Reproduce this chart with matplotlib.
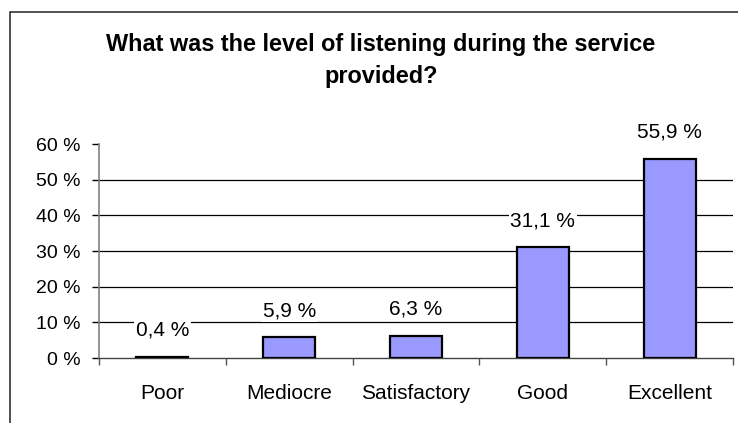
import matplotlib
matplotlib.use("Agg")
import matplotlib.pyplot as plt
import matplotlib.patches as mpatches
import numpy as np

categories = ["Poor", "Mediocre", "Satisfactory", "Good", "Excellent"]
values = [0.4, 5.9, 6.3, 31.1, 55.9]
value_labels = ["0,4 %", "5,9 %", "6,3 %", "31,1 %", "55,9 %"]
y_ticks = [0, 10, 20, 30, 40, 50, 60]
y_tick_labels = ["0 %", "10 %", "20 %", "30 %", "40 %", "50 %", "60 %"]
title = "What was the level of listening during the service\nprovided?"

plt.rcParams["font.family"] = ["Liberation Sans", "DejaVu Sans"]

W, H = 738, 423
fig = plt.figure(figsize=(W / 100, H / 100), dpi=100)
fig.patch.set_facecolor("white")

# outer chart frame (runs off the right and bottom edge)
frame = mpatches.Rectangle((9.5 / W, -0.05), 1.0, (H - 12.5) / H + 0.05,
                           transform=fig.transFigure, fill=False,
                           edgecolor="#222222", linewidth=1.1, zorder=0)
fig.patches.append(frame)

ax = fig.add_axes([99 / W, (H - 358) / H, (733 - 99) / W, (358 - 144) / H])
ax.set_xlim(0, len(categories))
ax.set_ylim(0, 60)

x = np.arange(len(categories)) + 0.5
ax.bar(x, values, width=0.41, color="#9999FF", edgecolor="black",
       linewidth=1.6, zorder=3)

# horizontal gridlines (none at the top value)
for yv in y_ticks[1:-1]:
    ax.axhline(yv, color="black", linewidth=0.9, zorder=1)

for xi, v, lab in zip(x, values, value_labels):
    ax.annotate(lab, (xi, v), xytext=(0, 19), textcoords="offset points",
                ha="center", va="center", fontsize=15, color="black",
                bbox=dict(boxstyle="square,pad=0.08", fc="white", ec="none"),
                zorder=4)

ax.set_yticks(y_ticks)
ax.set_yticklabels(y_tick_labels, fontsize=14)
ax.set_xticks(np.arange(len(categories) + 1))
ax.set_xticklabels([])
ax.set_xticks(x, minor=True)
ax.set_xticklabels(categories, minor=True, fontsize=15)
ax.tick_params(axis="x", which="minor", length=0, pad=19)
ax.tick_params(axis="x", which="major", length=5, width=1, color="#555555",
               direction="out")
ax.tick_params(axis="y", length=5, width=1, color="black", pad=8,
               direction="out")

for s in ("top", "right"):
    ax.spines[s].set_visible(False)
ax.spines["left"].set_color("#808080")
ax.spines["left"].set_linewidth(1.2)
ax.spines["bottom"].set_color("#444444")
ax.spines["bottom"].set_linewidth(1.0)
ax.set_facecolor("none")

fig.text(381 / W, 1 - 61 / H, title, ha="center", va="center",
         fontsize=16.9, fontweight="bold", linespacing=1.5)

fig.savefig("out.png", dpi=100, facecolor="white")
